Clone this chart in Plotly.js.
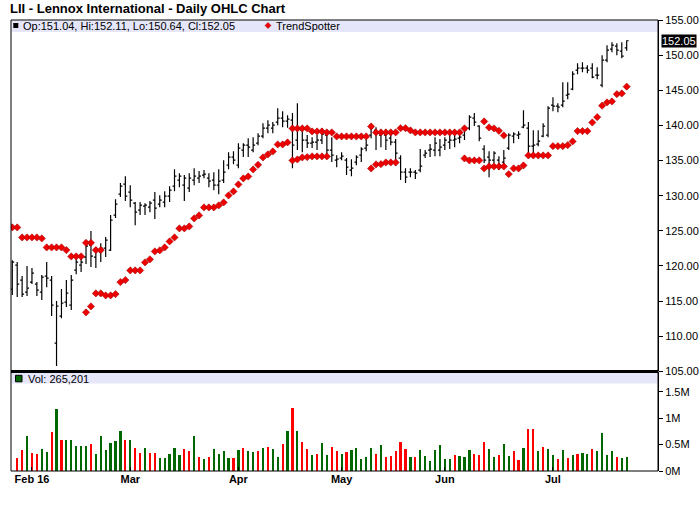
<!DOCTYPE html>
<html>
<head>
<meta charset="utf-8">
<script src="https://cdn.plot.ly/plotly-3.0.1.min.js"></script>
<style>html,body{margin:0;padding:0;background:#fff;}#chart{width:700px;height:512px;}</style>
</head>
<body>
<div id="chart"></div>
<script>
const dates = [
"2016-01-26","2016-01-27","2016-01-28","2016-01-29",
"2016-02-01","2016-02-02","2016-02-03","2016-02-04","2016-02-05","2016-02-08","2016-02-09","2016-02-10","2016-02-11","2016-02-12","2016-02-16","2016-02-17","2016-02-18","2016-02-19","2016-02-22","2016-02-23","2016-02-24","2016-02-25","2016-02-26","2016-02-29",
"2016-03-01","2016-03-02","2016-03-03","2016-03-04","2016-03-07","2016-03-08","2016-03-09","2016-03-10","2016-03-11","2016-03-14","2016-03-15","2016-03-16","2016-03-17","2016-03-18","2016-03-21","2016-03-22","2016-03-23","2016-03-24","2016-03-28","2016-03-29","2016-03-30","2016-03-31",
"2016-04-01","2016-04-04","2016-04-05","2016-04-06","2016-04-07","2016-04-08","2016-04-11","2016-04-12","2016-04-13","2016-04-14","2016-04-15","2016-04-18","2016-04-19","2016-04-20","2016-04-21","2016-04-22","2016-04-25","2016-04-26","2016-04-27","2016-04-28","2016-04-29",
"2016-05-02","2016-05-03","2016-05-04","2016-05-05","2016-05-06","2016-05-09","2016-05-10","2016-05-11","2016-05-12","2016-05-13","2016-05-16","2016-05-17","2016-05-18","2016-05-19","2016-05-20","2016-05-23","2016-05-24","2016-05-25","2016-05-26","2016-05-27","2016-05-31",
"2016-06-01","2016-06-02","2016-06-03","2016-06-06","2016-06-07","2016-06-08","2016-06-09","2016-06-10","2016-06-13","2016-06-14","2016-06-15","2016-06-16","2016-06-17","2016-06-20","2016-06-21","2016-06-22","2016-06-23","2016-06-24","2016-06-27","2016-06-28","2016-06-29","2016-06-30",
"2016-07-01","2016-07-05","2016-07-06","2016-07-07","2016-07-08","2016-07-11","2016-07-12","2016-07-13","2016-07-14","2016-07-15","2016-07-18","2016-07-19","2016-07-20","2016-07-21","2016-07-22","2016-07-25"];

const opens = [116.71,120.13,117.99,116.28,117.71,117.42,116.28,118.56,117.99,109.03,
112.87,114.86,114.44,119.41,120.12,121.26,122.97,121.26,121.97,122.54,
122.26,127.24,130.22,131.65,130.51,128.94,127.95,128.52,128.37,129.37,
128.80,129.09,129.94,131.36,132.22,131.50,131.08,132.22,132.50,132.93,
132.50,132.22,131.50,132.22,134.35,135.49,134.35,136.49,137.19,136.49,
137.48,138.47,139.61,139.61,140.47,141.03,140.61,140.75,137.91,139.33,
137.91,137.48,137.62,137.91,138.62,136.49,135.06,135.35,135.06,133.64,
134.78,135.77,136.77,138.62,139.33,138.62,138.62,138.19,137.62,135.35,
133.35,133.35,133.35,133.64,135.77,136.49,136.49,136.49,137.19,137.62,
137.91,138.19,138.62,139.61,141.03,139.90,136.63,135.49,135.06,135.06,
134.78,136.77,138.47,138.62,139.75,139.61,137.05,137.34,138.47,138.62,
142.88,142.74,142.88,144.31,145.16,147.86,148.15,148.15,148.15,147.15,
145.73,149.29,150.85,151.28,150.57,151.04];

const highs = [120.83,120.55,118.56,119.98,119.70,117.71,118.70,120.55,118.56,115.00,
116.71,117.99,118.70,121.26,121.26,123.25,124.96,122.69,123.25,124.11,
127.24,129.51,131.79,132.78,131.50,129.09,129.09,128.94,129.23,130.51,
130.08,130.65,131.36,133.78,133.21,132.93,133.21,133.92,133.50,133.64,
133.21,133.35,133.78,135.06,136.20,136.34,137.48,137.48,138.19,138.33,
138.90,140.32,140.75,140.47,142.46,142.03,141.46,141.75,143.17,139.61,
138.62,138.33,138.62,139.61,139.18,138.33,135.77,136.20,135.35,135.20,
135.77,136.91,138.62,140.04,139.75,139.47,139.47,139.04,138.05,135.77,
133.92,133.92,133.64,136.63,136.49,137.34,138.33,138.05,138.33,138.90,
139.04,139.33,139.75,141.46,141.75,140.04,137.19,136.34,136.34,135.63,
136.49,138.90,139.04,139.18,142.17,140.47,139.33,139.33,140.32,142.74,
144.02,143.17,146.16,146.16,147.72,148.86,149.00,148.57,148.86,148.29,
150.00,151.42,151.85,151.70,151.85,152.11];

const lows = [115.86,115.57,115.57,115.72,117.42,115.72,115.15,116.99,112.87,105.76,
112.58,114.15,113.72,118.84,119.13,120.27,119.84,119.70,120.55,121.26,
122.12,126.81,129.80,129.23,128.37,125.81,127.24,127.24,127.66,126.67,
128.37,128.37,129.09,130.65,131.22,129.23,130.51,131.50,131.79,132.50,
131.22,130.79,130.22,131.79,133.78,134.49,133.92,135.49,135.49,136.20,
137.19,138.19,138.90,138.90,140.04,139.75,139.68,133.92,136.49,136.20,
136.77,136.77,136.49,137.34,135.77,134.78,134.06,135.06,132.93,132.78,
134.35,134.78,136.34,138.19,136.49,136.91,136.49,137.19,134.21,132.22,
131.79,132.64,132.36,133.35,135.35,135.49,135.63,135.63,136.49,136.63,
136.91,137.48,137.91,139.33,139.90,137.76,134.64,132.64,134.64,133.64,
134.06,136.49,137.48,138.05,139.61,135.63,135.91,137.05,138.33,138.33,
142.03,141.89,142.60,143.74,145.02,147.29,147.58,147.44,146.72,146.58,
145.44,149.00,150.42,150.00,149.57,150.64];

const closes = [120.55,117.42,116.00,116.85,118.99,116.57,118.42,118.27,114.44,114.29,
114.72,116.14,117.99,120.55,120.55,122.83,121.40,122.26,122.54,123.68,
126.53,128.80,131.36,129.94,129.37,127.66,128.66,128.66,128.94,128.23,
129.37,129.94,130.79,132.78,132.78,132.50,132.50,132.78,132.78,133.07,
132.07,131.50,132.07,133.35,135.49,135.06,136.77,137.19,136.91,137.19,
138.47,139.61,140.04,140.04,141.03,140.61,140.89,137.19,139.61,137.91,
137.48,137.62,137.91,138.76,136.49,135.77,135.20,135.63,134.06,133.92,
135.49,136.63,137.19,139.61,139.04,139.04,137.91,137.62,136.06,133.35,
132.64,133.35,133.21,134.21,136.06,136.63,137.48,136.91,137.91,137.91,
138.05,138.33,139.33,141.18,140.47,138.19,135.06,135.06,136.06,134.35,
135.35,138.62,138.76,138.76,140.04,137.05,137.19,137.77,139.90,142.46,
142.74,142.60,143.45,144.45,147.29,148.15,148.15,147.86,146.87,147.15,
149.29,150.71,151.42,150.71,149.86,152.05];

const trendUpper = [125.49,125.49,124.06,124.06,124.06,124.06,123.92,122.64,122.64,122.64,
122.64,122.26,121.36,121.36,121.36,123.30,123.30,122.26,122.26,null,
null,null,null,null,null,null,null,null,null,null,
null,null,null,null,null,null,null,null,null,null,
null,null,null,null,null,null,null,null,null,null,
null,null,null,null,null,null,null,139.57,139.57,139.57,
139.57,139.14,139.14,139.14,139.00,139.00,138.43,138.43,138.43,138.43,
138.43,138.43,138.43,139.85,139.00,139.00,139.00,139.00,139.00,139.60,
139.60,139.29,139.00,139.00,139.00,139.00,139.00,139.00,139.00,139.00,
139.00,139.00,139.57,null,null,null,140.57,139.71,139.57,139.23,
138.57,null,null,null,null,null,null,null,null,null,
null,null,null,null,null,null,null,null,null,null,
null,null,null,null,null,null];

const trendLower = [null,null,null,null,null,null,null,null,null,null,
null,null,null,null,null,113.40,114.25,116.10,116.10,115.81,
115.81,116.00,117.71,118.00,119.37,119.37,119.37,120.51,120.94,122.07,
122.22,122.64,123.49,124.06,125.35,125.35,125.63,126.77,127.20,128.33,
128.33,128.33,128.62,129.04,130.04,130.61,131.60,132.46,132.74,133.74,
134.40,135.45,135.87,136.30,137.29,137.29,137.58,135.02,135.16,135.45,
135.49,135.59,135.59,135.59,135.59,null,null,null,null,null,
null,null,null,133.88,134.45,134.49,134.73,134.73,134.73,null,
null,null,null,null,null,null,null,null,null,null,
null,null,135.30,135.02,135.02,135.02,133.88,134.16,134.16,134.16,
134.16,133.07,133.88,133.88,134.31,135.73,135.73,135.73,135.73,135.73,
137.05,137.05,137.05,137.19,137.72,139.19,139.19,139.19,140.42,141.18,
142.81,143.27,143.41,144.45,144.55,145.52];

const volumes = [null,247000,395000,667000,340000,320000,410000,360000,730000,1170000,
580000,590000,590000,470000,480000,480000,520000,320000,667000,395000,
525000,560000,760000,580000,580000,430000,340000,430000,340000,340000,
247000,247000,320000,430000,300000,410000,380000,667000,265000,230000,
265000,410000,320000,380000,247000,247000,395000,430000,380000,360000,
380000,430000,450000,410000,265000,510000,760000,1190000,760000,540000,
410000,300000,320000,525000,300000,450000,380000,320000,360000,390000,
430000,230000,260000,440000,330000,500000,260000,280000,370000,555000,
410000,260000,260000,390000,280000,185000,390000,500000,220000,220000,
300000,280000,260000,390000,315000,300000,555000,410000,260000,300000,
520000,280000,370000,200000,430000,800000,800000,370000,460000,410000,
300000,220000,390000,240000,300000,315000,350000,330000,410000,370000,
720000,300000,370000,260000,240000,265201];

const volumeUp = [1,0,0,1,0,0,1,1,0,1,
0,1,1,1,1,1,0,1,1,1,
1,1,1,0,1,0,0,1,0,0,
1,1,1,1,1,0,0,1,0,1,
0,1,1,1,1,0,1,0,1,1,
0,1,0,1,1,0,1,0,1,0,
0,1,0,1,1,0,0,1,0,1,
1,1,1,1,0,1,0,0,0,0,
0,1,0,1,1,1,1,1,1,1,
0,1,1,1,0,0,0,1,1,0,
1,1,0,0,1,0,0,1,0,1,
1,0,1,0,1,0,1,1,0,1,
1,1,1,0,1,1];

const monthTicks = ["2016-02-01","2016-03-01","2016-04-01","2016-05-02","2016-06-01","2016-07-01"];
const monthLabels = ["Feb 16","Mar","Apr","May","Jun","Jul"];
const priceTicks = [105,110,115,120,125,130,135,140,145,150,155];
const volTicks = [0,500000,1000000,1500000];
const volTickLabels = ["0M","0.5M","1M","1.5M"];

// ---- layout geometry (pixels) ----
const L = 11, R = 658, T = 20, B = 471;
const pw = R - L, ph = B - T;
const fx = x => (x - L) / pw;
const fy = y => (B - y) / ph;
const FONT = "Liberation Sans, Arial, Helvetica, sans-serif";
const GREEN = "#006600", RED = "#ff0000";

const n = closes.length;
const fmt = v => v.toFixed(2);
const legendText = "Op:" + fmt(opens[n-1]) + ", Hi:" + fmt(highs[n-1]) + ", Lo:" + fmt(lows[n-1]) + ", Cl:" + fmt(closes[n-1]);
const volText = "Vol: " + volumes[n-1].toLocaleString("en-US");

const tsMarker = {symbol: "diamond", size: 5.6, color: "#ee0000", line: {color: "#990000", width: 0.5}};

const traces = [
  {
    type: "ohlc", x: dates, open: opens, high: highs, low: lows, close: closes,
    xaxis: "x", yaxis: "y",
    increasing: {line: {color: "#000000", width: 1.2}},
    decreasing: {line: {color: "#000000", width: 1.2}},
    tickwidth: 0.4, hoverinfo: "skip", showlegend: false
  },
  {
    type: "scatter", mode: "markers", x: dates, y: trendUpper, xaxis: "x", yaxis: "y",
    marker: tsMarker, hoverinfo: "skip", showlegend: false
  },
  {
    type: "scatter", mode: "markers", x: dates, y: trendLower, xaxis: "x", yaxis: "y",
    marker: tsMarker, hoverinfo: "skip", showlegend: false
  },
  {
    type: "bar", x: dates, y: volumes, xaxis: "x", yaxis: "y2", width: 0.45,
    marker: {color: volumeUp.map(u => u ? GREEN : RED), line: {width: 0}},
    hoverinfo: "skip", showlegend: false
  }
];

const dpx = 3 / pw, dpy = 3 / ph;
const dcx = fx(268), dcy = fy(25.5);
const diamondPath = "M " + dcx + " " + (dcy + dpy) + " L " + (dcx + dpx) + " " + dcy + " L " + dcx + " " + (dcy - dpy) + " L " + (dcx - dpx) + " " + dcy + " Z";

const layout = {
  width: 700, height: 512,
  margin: {l: L, r: 700 - R, t: T, b: 512 - B, pad: 0},
  paper_bgcolor: "#ffffff", plot_bgcolor: "#ffffff",
  font: {family: FONT, size: 11, color: "#000000"},
  hovermode: false, dragmode: false, showlegend: false,
  bargap: 0,
  title: {
    text: "LII - Lennox International - Daily OHLC Chart",
    xref: "container", x: 10 / 700, xanchor: "left",
    yref: "container", y: 1 - 8.5 / 512, yanchor: "middle",
    font: {family: FONT, size: 13, weight: "bold", color: "#000000"}
  },
  xaxis: {
    type: "category", anchor: "y2", range: [-0.264, 131.37],
    tickmode: "array", tickvals: monthTicks, ticktext: monthLabels,
    ticks: "inside", ticklen: 4, tickwidth: 1, tickcolor: "#000000",
    tickfont: {family: FONT, size: 11, weight: "bold", color: "#000000"},
    showgrid: false, zeroline: false, showline: false,
    rangeslider: {visible: false}, fixedrange: true
  },
  yaxis: {
    domain: [fy(371.4), 1], range: [105, 155], side: "right", anchor: "x",
    tickmode: "array", tickvals: priceTicks, tickformat: ".2f",
    ticks: "outside", ticklen: 4, tickwidth: 1, tickcolor: "#000000",
    tickfont: {family: FONT, size: 11, color: "#000000"},
    showgrid: false, zeroline: false, showline: true, linecolor: "#000000", linewidth: 1,
    fixedrange: true
  },
  yaxis2: {
    domain: [0, fy(372)], range: [0, 1875000], side: "right", anchor: "x",
    tickmode: "array", tickvals: volTicks, ticktext: volTickLabels,
    ticks: "outside", ticklen: 4, tickwidth: 1, tickcolor: "#000000",
    tickfont: {family: FONT, size: 11, color: "#000000"},
    showgrid: false, zeroline: false, showline: true, linecolor: "#000000", linewidth: 1,
    fixedrange: true
  },
  shapes: [
    {type: "rect", xref: "paper", yref: "paper", x0: fx(11.5), x1: fx(657.5), y0: fy(32), y1: fy(20.3),
     fillcolor: "#e6e6fa", line: {width: 0}, layer: "above"},
    {type: "rect", xref: "paper", yref: "paper", x0: fx(11.5), x1: fx(657.5), y0: fy(383.5), y1: fy(373),
     fillcolor: "#e6e6fa", line: {width: 0}, layer: "above"},
    {type: "rect", xref: "paper", yref: "paper", x0: fx(13.3), x1: fx(18.3), y0: fy(28), y1: fy(23),
     fillcolor: "#000000", line: {width: 0}, layer: "above"},
    {type: "path", xref: "paper", yref: "paper", path: diamondPath,
     fillcolor: "#ee0000", line: {color: "#990000", width: 0.5}, layer: "above"},
    {type: "rect", xref: "paper", yref: "paper", x0: fx(15.5), x1: fx(22), y0: fy(381.8), y1: fy(375.3),
     fillcolor: GREEN, line: {color: "#000000", width: 1}, layer: "above"},
    {type: "rect", xref: "paper", yref: "paper", x0: 0, x1: 1, y0: 0, y1: 1,
     line: {color: "#000000", width: 1}, fillcolor: "rgba(0,0,0,0)", layer: "above"},
    {type: "line", xref: "paper", yref: "paper", x0: 0, x1: 1, y0: fy(371.6), y1: fy(371.6),
     line: {color: "#000000", width: 3}, layer: "above"}
  ],
  annotations: [
    {xref: "paper", yref: "paper", x: fx(21), y: fy(25.8), xanchor: "left", yanchor: "middle",
     text: legendText, showarrow: false, font: {family: FONT, size: 11, color: "#000000"}},
    {xref: "paper", yref: "paper", x: fx(274), y: fy(25.8), xanchor: "left", yanchor: "middle",
     text: "TrendSpotter", showarrow: false, font: {family: FONT, size: 11, color: "#000000"}},
    {xref: "paper", yref: "paper", x: fx(26), y: fy(378.5), xanchor: "left", yanchor: "middle",
     text: volText, showarrow: false, font: {family: FONT, size: 11, color: "#000000"}},
    {xref: "paper", yref: "y", x: fx(661), y: closes[n-1], xanchor: "left", yanchor: "middle",
     text: fmt(closes[n-1]), showarrow: false, bgcolor: "#000000", borderpad: 0,
     font: {family: FONT, size: 11, color: "#ffffff"}}
  ]
};

Plotly.newPlot("chart", traces, layout, {staticPlot: true, displayModeBar: false});
</script>
</body>
</html>
